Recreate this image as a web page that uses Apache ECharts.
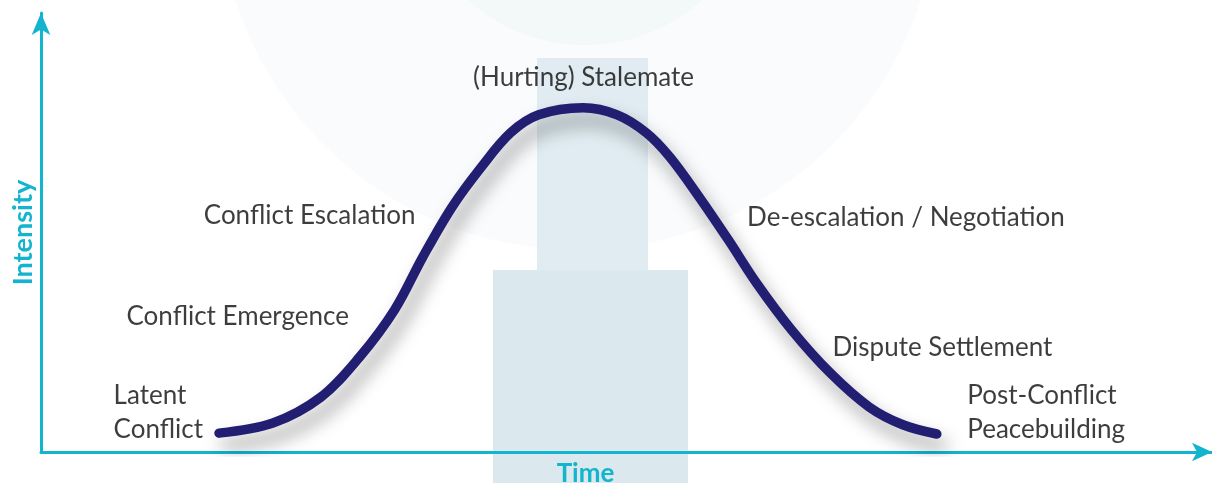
<!DOCTYPE html>
<html>
<head>
<meta charset="utf-8">
<script src="https://cdn.jsdelivr.net/npm/echarts@6/dist/echarts.min.js"></script>
<style>html,body{margin:0;padding:0;background:#fff;}#c{width:1212px;height:483px;}</style>
</head>
<body>
<div id="c"></div>
<script>
// Curve: time (0-100) vs intensity (0-100)
const curveTime = [15.2, 19.8, 23.9, 27.2, 30.2, 32.6, 35.1, 37.6, 40.1, 42.5, 46.3, 49.2, 51.7, 53.7, 56.2, 58.7, 61.1, 64.1, 67.4, 70.7, 73.6, 76.5];
const curveIntensity = [4.3, 6.6, 12.5, 21.6, 32.4, 44.4, 55.8, 64.9, 72.7, 76.8, 78.4, 76.8, 72.7, 67.2, 58.1, 48.3, 38.5, 27.8, 18.0, 10.3, 6.2, 4.1];
// Stage labels and their anchor (left edge, vertical centre) in data units
const stageLabels = ['(Hurting) Stalemate', 'Conflict Escalation', 'Conflict Emergence', 'Latent\nConflict', 'De-escalation / Negotiation', 'Dispute Settlement', 'Post-Conflict\nPeacebuilding'];
const stageX = [36.9, 13.9, 7.3, 6.2, 60.3, 67.6, 79.1];
const stageY = [85.2, 53.8, 30.9, 9.0, 53.5, 23.8, 9.0];
const axisNames = { x: 'Time', y: 'Intensity' };

const axisColor = '#12b5cd';
const textColor = '#0d0d0d';
const font = 'Lato';

const chart = echarts.init(document.getElementById('c'));
const curveData = curveTime.map((t, i) => [t, curveIntensity[i]]);
const labelData = stageLabels.map((s, i) => ({ value: [stageX[i], stageY[i]], name: s }));

chart.setOption({
  animation: false,
  backgroundColor: '#ffffff',
  grid: { left: 41, right: 0, top: 13, bottom: 31, containLabel: false, outerBoundsMode: 'none' },
  graphic: [
    { type: 'circle', z: -10, shape: { cx: 578, cy: -110, r: 360 }, style: { fill: 'rgba(205,222,230,0.13)' } },
    { type: 'circle', z: -9, shape: { cx: 585, cy: -130, r: 175 }, style: { fill: 'rgba(235,243,246,0.45)' } },
    { type: 'rect', z: -8, shape: { x: 537, y: 58, width: 111, height: 212 }, style: { fill: '#e0ecf1' } },
    { type: 'rect', z: -8, shape: { x: 493, y: 270, width: 195, height: 213 }, style: { fill: '#dbe8ee' } }
  ],
  xAxis: {
    type: 'value', min: 0, max: 100,
    name: axisNames.x, nameLocation: 'middle', nameGap: 9,
    nameTextStyle: { color: axisColor, fontFamily: font, fontWeight: 'bold', fontSize: 26, padding: [0, 82, 0, 0] },
    axisLine: { show: true, onZero: false, symbol: ['none', 'arrow'], symbolSize: [14, 20], lineStyle: { color: axisColor, width: 3 } },
    axisTick: { show: false }, axisLabel: { show: false }, splitLine: { show: false }
  },
  yAxis: {
    type: 'value', min: 0, max: 100,
    name: axisNames.y, nameLocation: 'middle', nameGap: 4, nameRotate: 90,
    nameTextStyle: { color: axisColor, fontFamily: font, fontWeight: 'bold', fontSize: 27 },
    axisLine: { show: true, onZero: false, symbol: ['none', 'arrow'], symbolSize: [14, 22], lineStyle: { color: axisColor, width: 3 } },
    axisTick: { show: false }, axisLabel: { show: false }, splitLine: { show: false }
  },
  series: [
    {
      type: 'line', data: curveData, smooth: 0.35, showSymbol: false, symbol: 'none', z: 3,
      lineStyle: { color: '#221e72', width: 9.5, cap: 'round', join: 'round',
        shadowColor: 'rgba(0,0,0,0.38)', shadowBlur: 18, shadowOffsetX: 6, shadowOffsetY: 12 }
    },
    {
      type: 'scatter', data: labelData, symbolSize: 0, z: 4, silent: true,
      label: {
        show: true, position: 'inside', align: 'left', verticalAlign: 'middle',
        formatter: p => p.name, color: textColor, fontFamily: font, fontSize: 26, lineHeight: 34
      }
    }
  ]
});
</script>
</body>
</html>
